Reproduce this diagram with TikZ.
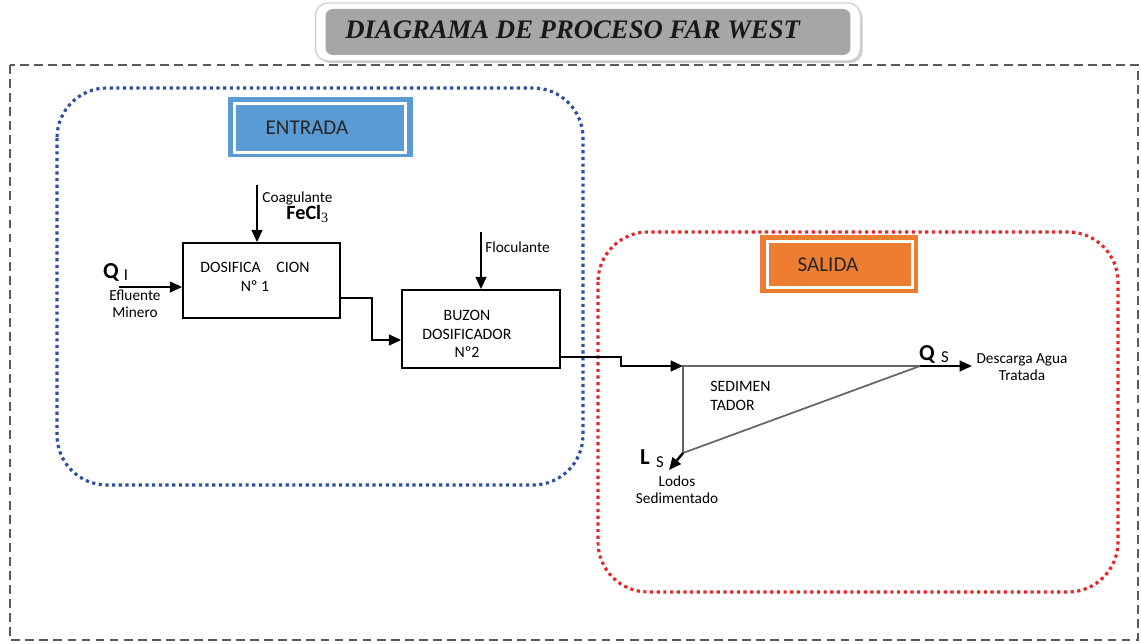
\documentclass[tikz,border=0pt]{standalone}
\usepackage{fontspec}
\setmainfont{Liberation Serif}
\setsansfont{Carlito}
\usetikzlibrary{arrows.meta,shadows}
\definecolor{bluefr}{HTML}{2E4F9E}
\definecolor{redfr}{HTML}{E8262A}
\definecolor{entfill}{HTML}{5B9BD5}
\definecolor{salfill}{HTML}{ED7D31}
\definecolor{titgray}{HTML}{A6A6A6}
\begin{document}
\begin{tikzpicture}[x=0.02cm,y=-0.02cm,
  lbl/.style={font=\sffamily\fontsize{8.7}{9.5}\selectfont, inner sep=0pt, align=center},
  boxtxt/.style={font=\sffamily\fontsize{9}{10.5}\selectfont, inner sep=0pt, align=center},
  bigq/.style={font=\sffamily\bfseries\fontsize{13}{13}\selectfont, inner sep=0pt},
  subq/.style={font=\sffamily\fontsize{9.5}{10}\selectfont, inner sep=0pt},
  procbox/.style={draw=black, line width=0.9pt, fill=white, inner sep=0pt},
  flow/.style={draw=black, line width=1.4pt, -{Triangle[length=7pt,width=6pt]}},
  tank/.style={draw=gray!80!black, line width=1pt},
  innerw/.style={draw=white, line width=1.4pt},
  frame/.style={line width=1.8pt, dotted, rounded corners=1.0cm}]
\useasboundingbox (0,0) rectangle (1141,644);
% title
\node[draw=gray!35, line width=0.8pt, fill=white, rounded corners=7pt, minimum width=10.9cm, minimum height=1.16cm,
      drop shadow={shadow xshift=1.2pt, shadow yshift=-1.2pt, opacity=0.4}] (titout) at (588,32) {};
\node[fill=titgray, rounded corners=4pt, minimum width=10.5cm, minimum height=0.92cm, inner sep=0pt] (titin) at (588,32) {};
\node[font=\rmfamily\bfseries\itshape\fontsize{15.2}{16}\selectfont, inner sep=0pt, anchor=west, text=black!90] (tit) at (345,30) {DIAGRAMA DE PROCESO FAR WEST};
% dashed outer frame
\draw[gray!70!black, line width=0.9pt, dash pattern=on 5pt off 3pt] (10,65) rectangle (1138,640);
% colored frames
\draw[frame, bluefr] (57,88) rectangle (583,485);
\draw[frame, redfr] (598,232) rectangle (1118,592);
% ENTRADA
\node[fill=entfill, minimum width=3.7cm, minimum height=1.2cm, inner sep=0pt] (ent) at (320.5,127) {};
\draw[innerw] ([shift={(7,7)}]ent.north west) rectangle ([shift={(-8,-5)}]ent.south east);
\node[font=\sffamily\fontsize{12}{13}\selectfont, inner sep=0pt, text=black!85] (enttxt) at (307,128) {ENTRADA};
% SALIDA
\node[fill=salfill, minimum width=3.16cm, minimum height=1.16cm, inner sep=0pt] (sal) at (839,264) {};
\draw[innerw] ([shift={(8,7)}]sal.north west) rectangle ([shift={(-6,-6)}]sal.south east);
\node[font=\sffamily\fontsize{12}{13}\selectfont, inner sep=0pt, text=black!85] (saltxt) at (828,265) {SALIDA};
% process boxes
\node[procbox, minimum width=3.14cm, minimum height=1.5cm] (dos) at (261.5,280.5) {};
\node[boxtxt] (dostxt) at (255,277) {DOSIFICA\quad CION\\Nº 1};
\node[procbox, minimum width=3.16cm, minimum height=1.56cm] (buz) at (481,329) {};
\node[boxtxt] (buztxt) at (467,334) {BUZON\\DOSIFICADOR\\Nº2};
% coagulante
\coordinate (coag) at (257,185);
\draw[flow] (coag) -- (coag |- dos.north);
\node[lbl, anchor=west] (coagtxt) at (262,199) {Coagulante};
\node[font=\sffamily\bfseries\fontsize{11.5}{12}\selectfont, inner sep=0pt, anchor=west] (fecl) at (286,214) {FeCl\textsubscript{\normalfont 3}};
% floculante
\coordinate (floc) at (481,232);
\draw[flow] (floc) -- (floc |- buz.north);
\node[lbl, anchor=west] (floctxt) at (485,247) {Floculante};
% input
\coordinate (qin) at (119,287);
\draw[flow] (qin) -- (qin -| dos.west);
\node[bigq] (qi) at (111,272) {Q};
\node[subq] (qisub) at (126,275) {I};
\node[lbl] (efl) at (135,304) {Efluente\\Minero};
% dos -> buz
\coordinate (d1) at (372,298);
\coordinate (d2) at (372,340);
\draw[flow] (d1 -| dos.east) -- (d1) -- (d2) -- (d2 -| buz.west);
% sedimentador
\coordinate (tl) at (683,366);
\coordinate (tr) at (920,366);
\coordinate (bl) at (683,453);
\draw[tank] (tl) -- (tr) -- (bl) -- cycle;
\coordinate (b1) at (621,357);
\coordinate (b2) at (621,366);
\draw[flow] (b1 -| buz.east) -- (b1) -- (b2) -- (tl);
\node[boxtxt, align=left, anchor=west] (sedtxt) at (710,396) {SEDIMEN\\TADOR};
% outputs
\coordinate (qsend) at (972,366);
\draw[flow] (tr) -- (qsend);
\node[bigq] (qs) at (927,354) {Q};
\node[subq] (qssub) at (945,357) {S};
\node[lbl] (desc) at (1022,367) {Descarga Agua\\Tratada};
\coordinate (lsend) at (669,470);
\draw[flow] (bl) -- (lsend);
\node[bigq] (ls) at (645,457) {L};
\node[subq] (lssub) at (660,462) {S};
\node[lbl] (lodos) at (677,490) {Lodos\\Sedimentado};
\end{tikzpicture}
\end{document}
